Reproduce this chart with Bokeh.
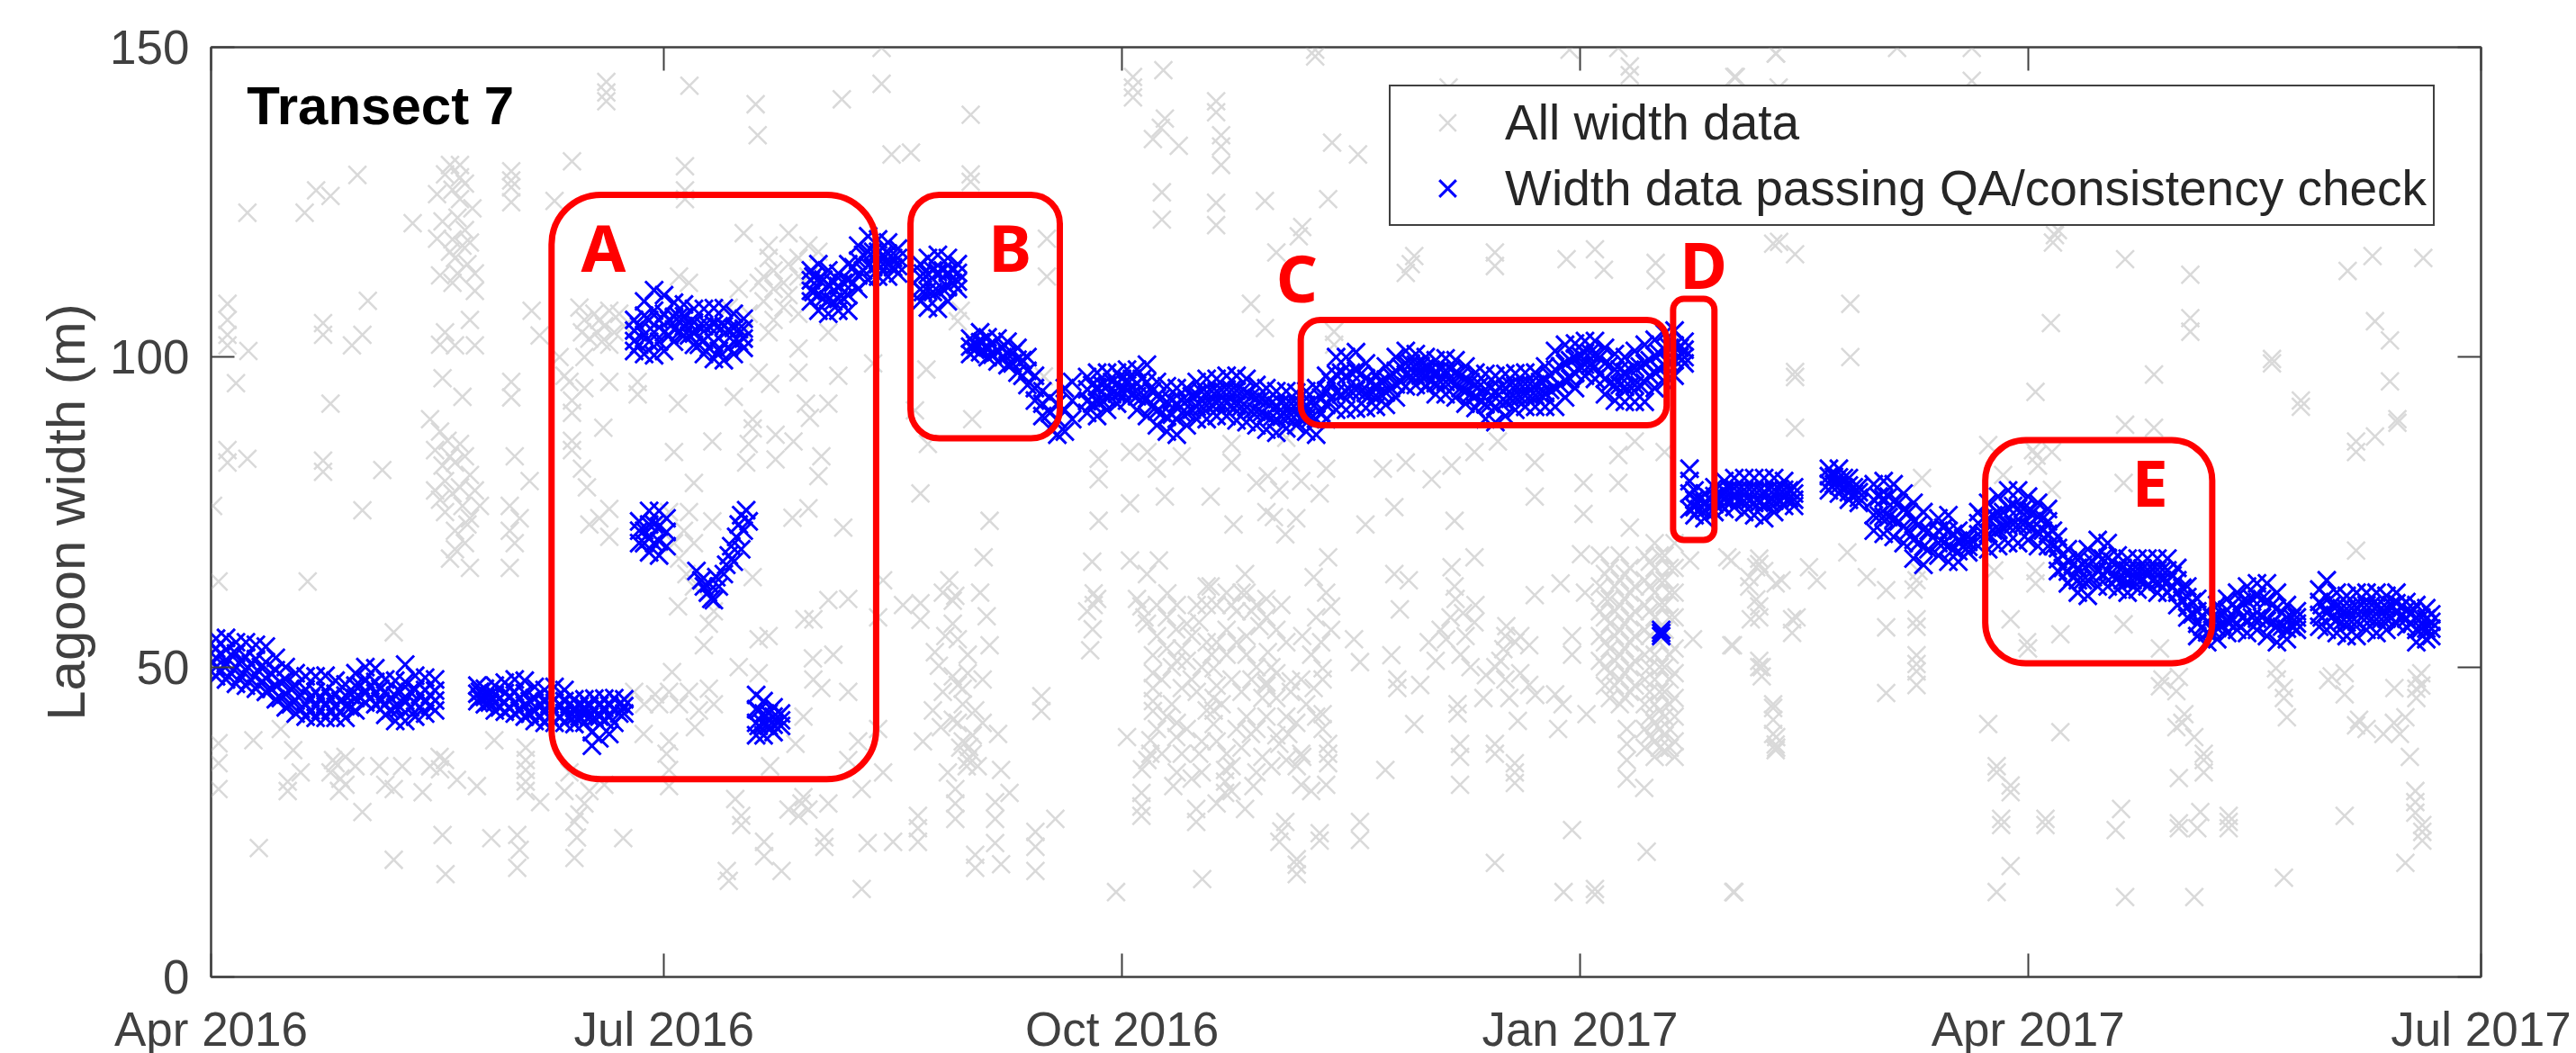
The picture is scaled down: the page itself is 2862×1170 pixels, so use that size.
from bokeh.plotting import figure
from bokeh.models import FixedTicker, LinearAxis, Range1d, Legend, LegendItem
from bokeh.core.properties import value
from bokeh.embed import file_html
from bokeh.resources import INLINE

# Axes
tick_days = [0, 91, 183, 275, 365, 456]
tick_labels = ["Apr 2016", "Jul 2016", "Oct 2016", "Jan 2017", "Apr 2017", "Jul 2017"]
y_ticks = [0, 50, 100, 150]

# Width data passing QA: (days since 1 Apr 2016, [widths on that day])
blue_early = [
 (1,[54.6,53,51.5,50,48.5]),(3,[54.7,52.8,50.6,48]),(5,[54,52.2,50,47.3]),(7,[54,51.6,49.5,47]),
 (9,[53.6,51.3,48.7,46.5]),(11,[53.3,50.8,48.2,46]),(13,[51.5,49.5,47,44.8]),(15,[50,48,45.6,43.5]),
 (17,[49,47,44.6,42.5]),(19,[48.5,46.4,44,42]),(21,[48.5,46,43.7,41.8]),(23,[48.6,46.2,44,41.8]),
 (25,[47.8,45.7,43.6,41.8]),(27,[47.2,45.4,43.7,41.8]),(29,[49,47,45,43]),(31,[50,48,46,44.3]),
 (33,[49.8,47.6,45.8,44]),(35,[48,46,44,42.3]),(37,[47.8,45.4,43.5,41.3]),(39,[50.4,47.6,44.6,41.3]),
 (41,[48.6,46.4,44.2,42]),(43,[48.3,46.3,44.4,42.5]),(45,[48,46.2,44.6,43]),
 (53.5,[47,45.7,44.5]),(55,[46.5,45.2,44]),(57,[47,45.5,44.2,43]),(59,[47.5,45.8,44.3,42.8]),
 (61,[48,46,44.2,42.5]),(63,[47.8,45.8,43.8,42]),(65,[46.8,45,43,41.3]),(67,[46.3,44.4,42.7,41]),
 (69,[46.8,44.8,42.8,41]),(71,[46.3,44.5,42.6,41]),(73,[44.8,43.4,42,40.8]),(75,[44.8,43.5,42.2,41]),
 (76.5,[37.3,39.5]),(77,[44.9,43.2,41.8]),(78,[38.5]),(79,[44.9,43.4,41.5]),(80,[39.2]),(81,[45,43.2,41]),
 (83,[44.8,43.7,42.5]),
 (2,[52,49.5]),(4,[52,49]),(6,[51,48.5]),(8,[50.5,48]),(10,[50,47.5]),(12,[49,46.5]),(14,[47.5,45]),(16,[46.5,44]),
 (18,[45.5,43.2]),(20,[45,43]),(22,[45,43]),(24,[45,43]),(26,[44.5,42.8]),(28,[45.5,43.5]),(30,[47,45]),(32,[47,45]),
 (34,[46.5,44.5]),(36,[45,43]),(38,[46,43.5]),(40,[46,43.5]),(42,[45.5,43.5]),(44,[45.5,43.8]),
 (54,[46,45]),(56,[45.5,44.3]),(58,[45,43.5]),(60,[45.3,43.3]),(62,[45,43]),(64,[44.5,42.5]),(66,[44,42]),(68,[44,42]),
 (70,[44,42]),(72,[44,42]),(74,[43.7,42]),(76,[43.7,42]),(78,[43.8,42]),(80,[43.8,42]),(82,[44,42.5]),
]
blue_clusters = [
 (85,[106,104.3,102.6,101]),(87,[109,106.7,103.6,100.5]),(89,[110.8,107.5,104,100.3]),(91,[110,107,104,101]),
 (93,[108.8,106.5,104.5,102.5]),(95,[108.5,106.6,105,103.5]),(97,[107.8,105.6,103.8,102]),
 (99,[107.8,105,102.7,100.5]),(101,[107.9,105.3,102.4,99.7]),(103,[107.9,105,102.2,99.5]),
 (105,[107,104.7,102.5,100.5]),(107,[106.2,104.6,103,101.5]),
 (86,[105,102]),(88,[106,102.5]),(90,[106,102.5]),(92,[106,103.5]),(94,[106.5,104]),(96,[105.5,103.5]),(98,[105,102]),
 (100,[105,101.5]),(102,[105,101]),(104,[104.5,101.5]),(106,[104.5,102.5]),
 (86,[73.5,72,70]),(88,[75.2,73,70.7,68.5]),(90,[75.2,72.7,70.3,68]),(91.5,[74,71.8,69.5]),(87,[72,70]),(89,[73,70]),
 (97.5,[65.5]),(98.5,[64]),(99,[63]),(99.8,[62]),(100.5,[61]),(101,[60.8]),(100,[63.5]),(101.5,[64.5]),
 (102,[63]),(103,[65]),(103.5,[66.5]),(104,[68]),(104.5,[69.5]),(105.5,[71]),(106,[73]),(107,[72]),
 (106.5,[74.5,69]),(107.5,[75.3]),(108,[73.5]),(105,[67]),
 (109.5,[45.5,43.2,41,39]),(111,[44.5,42.5,40.8,39]),(113,[43.5,42,40.7,39.5]),(114.5,[42.5,41.4,40.5]),(110,[43,40.5]),(112,[42.5,40.5]),
 (120.5,[114,112.4,110.7,109]),(122,[115,112.6,110,107.5]),(124,[114,111.7,109.3,107]),(126,[113.5,111.5,109.4,107.5]),
 (128,[115,112.4,110,107.5]),(130,[118,115.6,113.2,111]),(132,[119.5,117,114.8,112.5]),(134,[119,117,115,113]),
 (136,[118.5,116.7,114.9,113]),(138,[117.5,116,114.7,113.5]),
 (121,[113,110.5]),(123,[112.5,109.5]),(125,[112,109]),(127,[112,109.5]),(129,[114.5,112]),(131,[116.5,114]),(133,[117,114.5]),
 (135,[116.5,115]),(137,[116,114.5]),
 (142.5,[115,113,111,109]),(144,[116,113.4,110.7,108]),(146,[116.5,113.7,110.7,107.8]),(148,[116,113.6,111.3,109]),
 (150,[115,113.6,112.2,111]),(143,[113.5,110.5]),(145,[114,110.5]),(147,[114,111]),(149,[114,112]),
 (152.5,[103,101.7,100.5]),(154.5,[104,102.4,100.8]),(156,[103.2,101.6,100]),(158,[103,101,99.3]),
 (160,[102.5,100.5,98.7]),(162,[101.5,99.6,97.5]),(164,[100,97.8,95.5]),(165.5,[97,95,93]),(167,[94.5,92.5,90.5]),
 (168.5,[93.5,91,88.5]),(170,[92.5,90,87.5]),(171.5,[95,91.5,88]),(173,[96,93,90]),
 (153.5,[102,101.2]),(155,[102.5,101.2]),(157,[102,100.4]),(159,[101.5,100]),(161,[100.6,99]),(163,[99.5,97]),
]
blue_autumn = [
 (176,[96.8,94.8,92.9,91]),(178,[97.5,95.2,92.8,90.5]),(180,[97.5,95.4,93.4,91.5]),(182,[97.5,95.8,94.1,92.5]),
 (184,[98,96.3,94.6,93]),(186,[98,95.8,93.7,91.5]),(188,[98.8,96,93.3,90.5]),(190,[96,93.7,91.3,89]),
 (192,[95.3,92.8,90.4,88]),(194,[95,92.5,90,87.5]),(196,[95,93,91,89]),(198,[96,94,92,90]),
 (200,[96.5,94.3,92.2,90]),(202,[96.5,94.5,92.6,90.5]),(204,[97,94.8,92.6,90.5]),(206,[97,94.6,92.2,89.8]),
 (208,[96.5,94.2,91.9,89.5]),(210,[95.5,93.4,91.2,89]),(212,[95,92.8,90.5,88.3]),(214,[94.5,92.2,90,87.8]),
 (216,[94.5,92.4,90.5,88.5]),(218,[94.3,92.5,90.7,89]),(220,[94.5,92.3,90.2,88]),(222,[95,92.5,90,87.5]),
 (224,[97,94.6,92.3,90]),(226,[100,97.2,94.3,91.5]),(228,[100,97,94.4,91.5]),(230,[100.8,97.8,94.7,91.7]),
 (232,[99,96.6,94.2,91.8]),(234,[97.2,95.5,93.8,92]),(236,[98.5,96.4,94.3,92.3]),(238,[100,97.8,95.6,93.5]),
 (240,[101,99,97.2,95.3]),(242,[100.5,98.8,97.1,95.5]),(244,[100,98.4,96.8,95.2]),(246,[99.5,97.7,95.8,94]),
 (248,[99.8,97.8,96,94]),(250,[99.5,97.5,95.5,93.5]),(252,[98.5,96.5,94.5,92.5]),(254,[97.5,95.6,93.7,91.8]),
 (256,[97.3,94.8,92.4,90]),(258,[97,94.5,92,89.5]),(260,[97.3,95,92.8,90.5]),(262,[97.4,95.4,93.4,91.5]),
 (264,[97.5,95.7,93.8,92]),(266,[97.5,95.6,93.8,92]),(268,[98.5,96.3,94.2,92]),(270,[101,98,95,92]),
 (272,[102,99,96.2,93.5]),(274,[102.2,99.8,97.4,95]),(276,[102.6,100.7,98.8,97]),(278,[102.6,100.5,98.5,96.5]),
 (280,[101.5,99,96.5,94]),(282,[100.5,98,95.5,93]),(284,[100,97.6,95.2,92.8]),(286,[101,98.3,95.5,92.8]),
 (288,[102,99,95.9,92.8]),(290,[102.8,100.2,97.6,95]),(292,[103.8,101.2,98.6,96]),(294,[104.3,101.9,99.5,97]),
 (296,[102.5,101.2,100,99]),(291.3,[55,55.5,56]),
 (177,[95.5,92.5]),(179,[95.5,93]),(181,[96,94]),(183,[96.5,94.5]),(185,[96.5,94]),(187,[96.5,93.5]),(189,[94.5,92]),(191,[93.5,91]),
 (193,[93,90.7]),(195,[93,91]),(197,[93.7,91.5]),(199,[94.4,92]),(201,[94.5,92.3]),(203,[94.7,92.5]),(205,[94.7,92.2]),(207,[94.4,92]),
 (209,[93.7,91.3]),(211,[93.2,91]),(213,[92.6,90.2]),(215,[92.6,90.4]),(217,[92.5,90.7]),(219,[92.5,90.3]),(221,[92.6,90.2]),(223,[93.5,91]),
 (225,[96,93.2]),(227,[97.5,94]),(229,[97.5,94.5]),(231,[97.3,94.5]),(233,[96,94]),(235,[96,94]),(237,[97,95]),(239,[98.4,96]),(241,[99,97]),
 (243,[98.6,97]),(245,[98,96.2]),(247,[98,96]),(249,[98,96]),(251,[97,95]),(253,[96,94]),(255,[95.5,93]),(257,[95,92.5]),(259,[95,92.7]),
 (261,[95.5,93.3]),(263,[95.6,93.6]),(265,[95.7,93.7]),(267,[96,94]),(269,[97,94.7]),(271,[98.5,95.5]),(273,[99.5,96.5]),(275,[100.3,98.5]),
 (277,[100.7,98.7]),(279,[100,97.2]),(281,[98.8,95.8]),(283,[98,95.5]),(285,[98,95.3]),(287,[98.5,95.5]),(289,[99.5,97]),(291,[100.5,98]),
 (293,[101.5,99]),(295,[101.5,100]),
]
blue_spring = [
 (297,[82,80,78,75.5]),(298,[78.5,77,75.8,74.5]),(300,[78,76.6,75.3,74]),(302,[79,77.6,76.3,75]),(304,[80,78.4,77,75.5]),
 (306,[80.5,78.8,77.3,75.8]),(308,[80.5,78.6,76.8,75]),(310,[80.5,78.6,76.5,74.5]),(312,[80.5,78.3,76.2,74]),
 (314,[80.5,78.6,76.8,75]),(316,[80,78.6,77.3,76]),(318,[79,78,77,76]),
 (325,[82,80.8,79.6,78.5]),(327,[82,80.6,79.3,78]),(329,[80.5,79.3,78.2,77]),(331,[79,78.2,77.3,76.5]),
 (334,[79.5,77,74.5,72]),(336,[80,77.2,74.3,71.5]),(338,[79.5,76.7,73.8,71]),(340,[78,75.4,72.7,70]),
 (342,[76.5,73.5,70.5,67.5]),(344,[75,72.2,69.4,66.5]),(347,[74,72,70,68]),(349,[74.5,72,69.5,67]),
 (351,[72,70.4,68.7,67]),(353,[71,70.2,69.4,68.5]),
 (355,[75,73.2,71.4,69.5]),(357,[76.5,74,71.5,69]),(359,[77.5,74.8,72.2,69.5]),(361,[78.5,75.7,72.8,70]),
 (363,[78.5,75.6,72.9,70]),(365,[77.5,75.2,72.8,70.5]),(367,[76.5,74.2,71.8,69.5]),(369,[75.5,73.5,71.5,69.5]),
 (371,[71,69.2,67.4,65.5]),(373,[69,67.2,65.4,63.5]),(375,[68,66,64,62]),(377,[69,66.5,64,61.5]),
 (379,[70.5,68,65.5,63]),(381,[70,67.6,65.4,63]),(383,[68,66.2,64.3,62.5]),(385,[67.5,65.6,63.8,62]),
 (387,[67.5,65.8,64.2,62.5]),(389,[67.5,65.7,64.8,63]),(391,[67.5,65.7,63.8,62]),(393,[67.5,65.6,63.8,62]),
 (395,[66,64,62,60]),(397,[63,61.3,59.6,58]),(399,[61,59,57,55]),(401,[59,57.3,55.6,54]),
 (403,[60,58.2,56.3,54.5]),(405,[61,59.2,57.3,55.5]),(407,[62,59.4,57,56]),(409,[63,60.7,57.5,55.5]),
 (411,[63.5,61.4,57.8,56]),(413,[63.5,60.8,57.5,55]),(415,[62,59.5,56.7,54]),(417,[60,58,56.2,54.5]),
 (419,[59,58,57,56]),(423.5,[62.5,60.5,58.4,56.5]),(425,[64,61.4,58.7,56]),(427,[62,59.8,57.6,55.5]),
 (429,[61.5,59.4,57.2,55]),(431,[62,59.6,57.3,55]),(433,[62,60,58,56]),(435,[62,59.8,57.7,55.5]),
 (437,[61.5,59.6,57.8,56]),(439,[62,60.3,58.7,57]),(441,[60.5,59.2,57.8,56.5]),(443,[60,58,56,54]),
 (445,[59.5,57.8,56.2,54.5]),(446,[58.5,57.3,56.2,55]),
 (299,[77,75.5]),(301,[77.3,76]),(303,[78,76.5]),(305,[78.7,77]),(307,[78.7,77]),(309,[78.7,76.8]),(311,[78.5,76.5]),(313,[78.6,76.6]),
 (315,[78.7,77]),(317,[78.5,77.2]),(326,[80.7,79.5]),(328,[80.5,79]),(330,[79,78]),(335,[77.5,74.5]),(337,[77.5,74.2]),(339,[76.5,73.5]),
 (341,[75,72]),(343,[73,70]),(345,[72,69]),(348,[72.5,70]),(350,[71.5,69]),(352,[70.8,69.5]),(356,[74,71.5]),(358,[74.5,72]),(360,[75,72.5]),
 (362,[76,73]),(364,[75.5,73]),(366,[75,72.5]),(368,[74,72]),(370,[72,69.5]),(372,[68,66]),(374,[66.5,64.5]),(376,[66.5,64]),(378,[67,64.5]),
 (380,[67.5,65]),(382,[67,64.7]),(384,[66,64]),(386,[65.7,64]),(388,[65.9,64.3]),(390,[65.8,64]),(392,[65.7,64]),(394,[64.8,63]),(396,[62.8,60.8]),
 (398,[60.5,58.5]),(400,[58.3,56.5]),(402,[58,56]),(404,[58.5,56.8]),(406,[60,57.5]),(408,[60.5,58]),(410,[61,58]),(412,[61,58]),(414,[60,57]),
 (416,[58.8,56.5]),(418,[58,56.5]),(424,[60,58]),(426,[60,58]),(428,[59.5,57.3]),(430,[59.5,57.3]),(432,[60,58]),(434,[60,57.8]),(436,[59.5,57.7]),
 (438,[60,58]),(440,[59.8,58.2]),(442,[58.8,57]),(444,[58,56.2]),
]

# All width data: (days since 1 Apr 2016, width)
grey_spring = [
 (3.3,108.6),(3.3,106),(3.3,103.6),(3.3,101.9),(3.3,83),(3.3,85),(7.3,123.3),(18.8,123.3),(21.1,126.9),(24,126),(29.4,129.4),
 (5,95.8),(7.5,101),(7.3,83.6),(0.4,76),(22.5,105.5),(22.5,103.6),(30.4,103.6),(28.3,101.9),(31.5,109.1),(24,92.5),(22.5,83.3),
 (22.5,81.5),(34.4,81.8),(30.4,75.3),(40.5,121.6),(45.4,126.3),(46.5,121.9),(45.4,119.1),(48,131),(50,131),(51,128),(50,125.5),
 (49.5,122.5),(51,120.5),(52,118.5),(48.5,119),(47,129.5),(46,113.2),(48.5,112),(53,113.5),(53,110.7),(47,104),(52,106),(49,101.9),
 (46,102),(53,101.9),(46.5,96.6),(50.5,93.6),(60.3,130),(60.3,128.5),(60.3,127.4),(60.3,125),(60.3,96),(60.3,93.5),(64.4,107.5),
 (66,103.5),(44,90),(46,88),(45,85),(48,84),(50,86),(47,80),(50,79),(52,81),(45,78.5),(47,75),(52,74),(49,72),(54,76),(51.5,73),
 (60,76),(60,72),(62,74),(61,70),(64,80),(61,84),(48,67.5),(52,66),(60,66),
 (47.5,86.5),(49,83),(46.5,82.5),(51,84),(48.5,78),(50.5,76),(46,77),(53,78.5),(51,70),(49,69),(50.5,118),(49,116),(51.5,115),(49.5,113.5),(48,117),(52.5,124),(50,129),(48.5,127),
 (1.5,63.8),(19.4,63.8),(36.7,55.6),(1.5,37.7),(1.5,34.5),(1.5,30.3),(8.5,38.2),(16.5,36.6),(15.4,31.5),(15.4,30),(14,40),(18,33),
 (24,33),(25,34.5),(26,32),(27,31),(25.7,30),(24.5,35),(27,35.5),(29,34),(33.8,34),(38.4,34),(36.7,30.3),(35,31),(42.5,29.8),
 (45.9,35.5),(44,34),(46,33.5),(47,35),(49.4,31.8),(53.4,30.8),(30.4,26.6),(9.6,20.8),(36.7,18.9),(47.1,16.6),(46.5,22.9),(56.3,22.4),
 (61.5,22.9),(62,20.5),(61.5,17.6),(63.2,37),(63.2,35),(63.2,33.4),(63.2,31.5),(63.2,30),(56.9,38.2),(66.1,28.2),(74,26.2),(75,28),
 (73,25),(73.5,22.5),(73,19.2),(82.8,22.4),(76,30),(72,33),(71,30),(79,31),
]
grey_summer = [
 (79.4,144.4),(79.4,142.7),(79.4,141.3),(96.1,143.8),(109.4,140.8),(109.8,135.8),(126.7,141.6),(134.7,144.1),(134.7,149.9),(136.7,132.7),
 (72.5,131.6),(95.2,130.8),(95.2,126.9),(95.2,125.5),(69,125.2),(107,120),(112,118),(116,120),(120,118),(122,117),(113,114),(115,112),
 (111,109),(116,110),(118,107),(118,113),(113,106),(106,111),(107,104),(96,112),(78,106),(75,106),(79,105),(81,104),(76,103),(78.5,102.5),
 (82,107),(75,100),(70,100),(75,95),(72,96),(85.7,96),(85.7,94),(78.8,88.6),(72.5,93),(72.5,91),(72.5,85),(72.5,86.5),(80,96),(71,97),
 (74.5,82),(75.5,79),(80,75.5),(78,74),(76,73),(80,71),(93.8,92.5),(100.7,86.4),(93,84.7),(108.8,90),(108.8,88.5),(108,86),(113.4,87.5),
 (117,86.4),(107.5,83),(113.4,83.5),(122.6,84),(122,80.8),(105,93.6),(120.3,90.2),(124,92.5),(119.5,92.5),(112.3,95.7),(118,97.5),(126,97),
 (118,101.4),(124,104),(110,97.5),(104,108),(94,113),(133,99),(127,72.5),(97,79.7),(120,75.6),(100.7,73.5),(116.8,74.1),
 (77,107),(80,107.5),(74.5,104),(77.5,104),(80,102),(83,105),(74,108),(111,113),(113,111),(116,115),(118,116),(112,116),(115,108),(110,112),(120,113),(108,107),(112,104),
 (93,70),(95,72),(94,67.5),(96,75),(97,70),(92,75),(95.5,65),(97,63),
 (101,59),(99,53.5),(100,57),(93.8,59.8),(92.6,49.2),(89.2,45.6),(85,46),(87,44),(90,44),(92,46),(94,44),(96,46),(98,43),(100,46.5),(101,44),
 (92,38),(92,33.4),(91.5,36),(92,30.8),(86.9,39.2),(97.2,40.3),(106.5,26),(106.5,24.5),(111.1,21.8),(111.1,19.5),(103.6,17.1),(104,15.5),
 (114.6,17.1),(123.2,22.5),(123.2,21),(130.7,14.2),(131.9,21.6),(137,21.8),(118.6,28),(118,26),(120,27),(119,29),(124,28),(116,27),(130.7,30.3),
 (105.3,28.7),(112.3,34),(117.4,37.6),(119,42),(122.6,46.6),(120.9,51.4),(121,48),(121,57.7),(119.2,57.7),(124,60.8),(108.8,64.5),(110,54.5),
 (106,50),(110,49),(112,55),(125,52),(128,46),(134,58),(130,38),(134,40),(128,35),(135,33),(128,61),(135,64),(139,60),
 (142.5,60.3),(142.5,57.6),(149.5,61.5),(149,60.7),(150,54.5),(155.2,67.7),(148.3,64),(155.8,58.2),(156.4,53.5),(145.4,52.4),(146.2,50.2),
 (150,47.1),(149,48.5),(151,46.5),(152,49),(153.5,43),(152.3,37.1),(151,38),(153,36),(152,35),(158.1,39.2),(149.5,30.3),(149.5,28),(149.5,25.5),
 (157.5,28.2),(157.5,25.5),(160.4,29.7),(157.5,21.6),(153.5,19.7),(158.7,18.2),(153.5,17.6),(165.6,17.1),(165.6,23.4),(165.6,21),(169.6,25.5),
 (142,26),(142,24),(142,21.8),(166.8,45.3),(166.8,42.9),(158.7,33.4),(151.8,34),(146.6,40.3),(147,46),(145,43),(150,41),(155,41),(143,38),(148,33),
 (151,44),(149,41.5),(153,39),(154,34),(150.5,37),(155,48),(147.5,55),(152,52),(149,57),(154.5,62),(147,62),
 (142.5,78),(144,86),(156.4,73.6),(152.6,139.1),(140.6,133),(152.6,128.3),(152.6,129.5),(167.9,119.1),(167.9,113),(167.3,96.9),(150.6,107.5),(150,105.8),
 (143.7,98),(152.9,90),(141.4,91.4),
]
grey_autumn = [
 (185.2,145.2),(185.2,143.5),(185.2,141.9),(191.3,146.3),(191.6,138.5),(190.8,137),(189.2,135.2),(194.4,134.1),(201.9,141.3),(201.9,139.5),(202.9,135.8),(202.9,134),
 (202.9,131),(191,126.6),(191,122.2),(201.9,124.9),(201.9,121.3),(211.7,125.2),(224.4,125.5),(225.2,134.6),(230.4,132.7),(221.8,148.5),(221.8,149.6),(219.2,121),(218.5,119.5),
 (214,116.9),(241.7,116.3),(240,113.6),(241,115),(257.9,116.9),(257.9,114.7),(272.3,115.8),(278,117.4),(279.8,114.1),(290.2,115.2),(290.2,112.4),(272.9,149.6),(282.7,149.9),
 (285,146.9),(285,145.5),(306.3,145.2),(314.4,149),(315,118.6),(208.9,108.6),(211.7,104.7),(225.6,104.1),(225.6,102),(248.6,143.5),
 (178.3,83.6),(178.3,80.3),(184.6,84.7),(188.1,84.7),(184.6,76.4),(191.6,77.5),(178.3,73.6),(200.8,77.5),(205.4,73),(212.3,80.8),(213.5,74.2),(216.9,83),(222.7,78),(231.9,73),
 (235.4,82),(240,83),(245.2,80.3),(237.7,75.8),(249.2,82.5),(253.8,84.7),(258.5,86.4),(249.8,73.6),(265.9,83),(265.9,77.5),(275.7,79.7),(282.7,84.2),(286,86.4),(275.7,74.7),(282.7,79.7),
 (292,84.7),(285,72.5),(214.6,78.6),(210,79.7),(212,75),(215.8,71.4),(205,83),(195,84),(190,82),(205,86),(216,87),(218,74),(219,80),(224,82),
 (177,67),(177.3,61.9),(177.3,60),(176,59),(178,61),(177.1,56.1),(176.6,52.7),(181.8,13.7),
 (186.9,59.8),(186,61),(187.5,58),(192.1,61.9),(184,38.7),(188.7,38.2),(188.7,36),(188.1,35),(187,33.5),(186.9,29.7),(186.9,27.5),(186.9,26),
 (189.2,51.9),(189.2,49),(189.2,46.6),(189.2,44.5),(189.2,42.9),(193.9,56.1),(195,53),(195,46.6),(193,44),(190.4,67.2),(184.6,67.2),(188,65),
 (200.8,63),(198.5,57.2),(197,55),(200,54),(196,51),(201.4,49.8),(201,52),(202,47),(201.4,45),(201.4,43),(201.4,40.8),(198.5,36),(193.9,38.7),(193.3,30.8),(194,33),
 (197.9,27.1),(197.9,25),(199.1,15.8),(203.7,33.4),(203.7,31.5),(203.7,29.7),(207,62),(209,59),(205,60),(208,55),(204,56),(200,60),
 (207.7,65),(210.6,56.6),(212.3,52.4),(213,50),(211.2,45),(212,47.5),(208.9,39.2),(216.4,39.2),(211.2,35.5),(209.4,30.8),(210,33),(207.7,27.1),(216.9,47.7),(216.9,46),(214.6,37.6),
 (218.1,34),(219,36),(215.8,25),(215,23.5),(214.6,21.8),(218.1,19),(218.1,18.1),(218.1,16.6),
 (224.4,67.7),(221.5,64.5),(225,59.8),(224,62),(223.3,49.8),(223.3,48),(221.5,46.6),(223.3,42.4),(223.3,40),(224.4,37.6),(224.4,36),(224.4,34.5),(219.2,35.5),(222.7,23.2),(222.7,22),
 (230.8,25),(230.8,22.1),(229.6,54.5),(230.8,50.8),(219.2,55),(215,60),(212,61),
 (188,57),(190,60),(192,58),(194,60),(196,57),(198,60),(200,63),(202,60),(204,62),(206,59),(208,62),(210,60),(212,58),(214,56),(216,54),
 (190,55),(192,53),(194,51),(197,48),(199,50),(202,54),(204,52),(206,54),(208,52),(210,50),(212,47),(214,45),(191,48),(193,50),(198,46),(200,43),(203,44),(205,48),(207,46),(209,48),(214,49),(216,42),
 (190,40),(192,42),(194,41),(196,40),(199,38),(202,38),(204,36),(206,40),(208,42),(210,40),(212,42),(214,39),(218,41),(220,44),(222,42),(219,48),(221,52),(223,54),(225,56),(222,58),
 (191,36),(195,36),(199,33),(205,34),(207,37),(213,34),(216,35),(219,31),(221,30),(224,31),(197,32),(202,28),(205,30),
 (237.7,65),(240.6,64),(237.1,51.9),(238.8,59.3),(238.3,46.6),(238.3,48),(242.9,47.1),(241.7,40.8),(235.9,33.4),
 (249.2,66.1),(249.8,63),(251.5,58.7),(250,61),(253.8,67.7),(244.6,54),(248.1,54.5),(253.8,57.2),(250.4,44),(250.4,42.5),(255.6,45),(250.9,37.6),(250.9,35.5),(250.9,31),
 (247,56),(249,58),(252,55),(254,60),(251,52),(246,51),(253,50),(260,55),(262,54),(258,50),(263,49),(260,48),
 (260.2,56.6),(259.6,52.9),(259,51),(264.8,53.5),(263,55),(256.1,48.7),(264.8,47.1),(266,45.5),(260.8,45),(262.5,41.3),(257.9,37.6),(257.9,36),(261.9,34.5),(261.9,33),(261.9,31.3),
 (257.9,18.4),(265.9,61.6),(270,45.6),(271.5,44),(270.6,40),(271.1,63.5),(273.4,55),(273.4,52),(275.2,68.2),(276,62),(276.3,42.4),(273.4,23.7),(271.7,13.7),(278,14.2),(278,13.3),
]
grey_winter = [
 (279,68),(279,63),(279,59),(279,55),(279,51),(280,47),(281,66),(281,61),(281,57),(281,53),(281,49),(281,45),(283,68),(283,64),(283,60),(283,56),(283,52),(283,48),(283,44),
 (285,66),(285,62),(285,58),(285,54),(285,50),(285,46),(284.4,40),(284.4,37.6),(284.4,35),(284.4,32),(287.9,30.5),(288.4,20.2),
 (288,68),(288,64),(288,60),(288,56),(288,52),(288,48),(288,44),(288,40),(288,37),(290,70),(290,66),(290,62),(290,58),(290,52),(290,48),(290,44),(290,41),(290,38),(290,35.5),
 (292,68),(292,64),(292,60),(292,56),(292,50),(292,46),(292,42),(292,39),(292,36.5),(294,70),(294,66),(294,62),(294,58),(294,53),(294,49),(294,45),(294,42),(294,38),(294,35.5),
 (280,65),(280,61),(280,58),(280,54),(280,50),(282,63),(282,59),(282,55),(282,51),(282,47),(284,65),(284,61),(284,57),(284,53),(284,49),(284,45),(286,63),(286,59),(286,55),(286,51),(286,47),
 (289,67),(289,63),(289,59),(289,55),(289,50),(289,46),(289,42),(289,39),(291,68),(291,64),(291,60),(291,54),(291,50),(291,46),(291,43),(291,40),(291,37),(293,66),(293,62),(293,58),(293,52),(293,48),(293,44),(293,40),(293,37),
 (297.7,54.5),(297.1,67.2),(305.7,53.5),(304.6,67.7),(310.4,66.1),(309,64.5),(311,67.5),(310.4,60.9),(311.5,50),(311.5,48.5),(313.8,43.4),(313.8,41.5),(314.4,38.7),(314.4,37),
 (315.5,64),(318.5,58),(306,13.7),
 (314.3,149),(338.7,149.9),(353.7,149.9),(306,145.2),(314.9,143.5),(353.7,144.6),(370.4,119.7),(370,118.5),(371,120.5),(313.8,118.3),(318.2,116.6),(384.5,115.8),(397.6,113.3),
 (429.2,113.9),(434.2,116.3),(444.4,116),(329.3,108.6),(369.6,105.5),(397.6,106.3),(397.6,104.1),(434.7,105.8),(437.7,102.7),(329.3,100),(318.2,97.6),(318.2,96.8),(414,99.7),(414,99),
 (390.3,97.2),(366.5,94.4),(437.7,96.1),(419.8,93),(419.8,92),(318.2,88.6),(384.5,89.1),(390.3,88.6),(439.2,90),(439.2,89.4),(434.7,87.2),(430.9,86.4),(430.9,84.7),
 (366.7,84.1),(366,85),(367,82.5),(357,85.8),(369.8,84.7),(343.7,80.5),(384.2,79.7),(369.8,78.6),(360,81),(362,76),(365,74),(368,72),
 (305.4,67.2),(311,66.6),(312,65.5),(309,63),(321,66.1),(322.6,64),(328.7,68.5),(332.6,64.5),(336.5,62.4),(342.6,64),(342,62.5),(343,65.5),(314.3,63.5),
 (305.4,53.5),(309.3,57.7),(311,59.8),(311,58),(317.6,57.7),(317.6,55.5),(336.5,56.4),(342.6,57.7),(342.6,56.5),(342.6,51.9),(342.6,50.5),(342.6,49.3),(342.6,47.1),(336.5,45.8),
 (311,50),(311,51),(313.8,44),(313.8,39.2),(314.3,37.5),(314.3,36.6),(357,40.8),(371.5,39.5),(358.7,34),(358.7,33),(361.5,30.9),(361.5,29.8),(359.6,25.5),(359.6,24.5),(368.5,25.5),
 (368.5,24.5),(361.5,17.9),(358.7,13.7),(305.8,13.7),(383.7,27.1),(382.6,23.7),(384.5,12.9),(398.4,12.9),(395.3,24.8),(395.3,24),(399.6,26.6),(399,24),(405.3,26),(405.3,25),(405.3,24),
 (416.4,16),(428.6,26),(440.8,18.4),(442.8,28.2),(442.8,26.5),(444.2,24.5),(444.2,23.4),(444.2,22),(442.8,30),(441.7,35.5),(440.8,41.9),(436.4,39.2),(439.7,39.2),(438.5,41),(430.9,40.6),
 (431.5,41.5),(433,40),(417,41.9),(400.3,36),(400.3,35),(400.3,33),(395.3,32.1),(398.4,38.7),(394.8,40.3),(396.4,42.4),(396,41),(391.5,46.9),(392,48),(394.8,46.1),(395.3,48.4),
 (414.8,49.8),(415,48),(416.4,46.6),(416.4,45),(425.3,47.9),(426,48.5),(428.6,49),(428.6,45.6),(438.6,46.6),(443.1,48.2),(443,46.5),(444,47),(443,45),(444,49),
 (364.8,54),(365,53),(361.5,57.7),(371.5,55.3),(384.2,56.9),(391.5,53),(366.5,63.5),(366.5,65.5),(358.2,65.6),(430.9,68.8),
]

# Legend and panel annotations
legend_labels = ["All width data", "Width data passing QA/consistency check"]
region_names = ["A", "B", "C", "D", "E"]
region_left = [68.4, 140.5, 218.9, 293.7, 356.4]
region_right = [133.6, 170.5, 292.4, 302.0, 402.0]
region_top = [126.2, 126.2, 106.0, 109.4, 86.6]
region_bottom = [31.9, 86.9, 89.0, 70.5, 50.6]
region_radius = [55, 32, 22, 12, 45]
name_x = [78.8, 160.5, 218.1, 299.8, 389.5]
name_y = [117.8, 117.8, 112.9, 115.1, 80]
panel_title = "Transect 7"

blue_all = blue_early + blue_clusters + blue_autumn + blue_spring
blue_x = [d for d, vs in blue_all for _ in vs]
blue_y = [v for _, vs in blue_all for v in vs]
grey_all = grey_spring + grey_summer + grey_autumn + grey_winter
grey_x = [d for d, _ in grey_all]
grey_y = [v for _, v in grey_all]

FONT = "Liberation Sans"
AX = "#404040"

p = figure(frame_width=2522, frame_height=1033, x_range=Range1d(0, 456), y_range=Range1d(0, 150),
           output_backend="svg", toolbar_location=None, tools="",
           min_border_left=234, min_border_right=106, min_border_top=52, min_border_bottom=85,
           background_fill_color="white", border_fill_color="white")
p.grid.visible = False
p.outline_line_color = AX
p.outline_line_width = 2

xa, ya = p.xaxis[0], p.yaxis[0]
xa.ticker = FixedTicker(ticks=tick_days)
xa.major_label_overrides = dict(zip(tick_days, tick_labels))
ya.ticker = FixedTicker(ticks=y_ticks)
ya.axis_label = "Lagoon width (m)"
ya.axis_label_text_font = FONT
ya.axis_label_text_font_size = "60px"
ya.axis_label_text_font_style = "normal"
ya.axis_label_text_color = AX
ya.axis_label_standoff = 12
for ax in (xa, ya):
    ax.major_tick_in = 26
    ax.major_tick_out = 0
    ax.minor_tick_in = 0
    ax.minor_tick_out = 0
    ax.axis_line_color = AX
    ax.axis_line_width = 2
    ax.major_tick_line_color = AX
    ax.major_tick_line_width = 2
    ax.major_label_text_font = FONT
    ax.major_label_text_font_size = "53px"
    ax.major_label_text_color = AX
    ax.major_label_standoff = 24
xa.major_label_standoff = 28

for side, ticks in (("above", tick_days), ("right", y_ticks)):
    extra = LinearAxis(ticker=FixedTicker(ticks=ticks), major_tick_in=26, major_tick_out=0,
                       minor_tick_in=0, minor_tick_out=0, axis_line_color=AX, axis_line_width=2,
                       major_tick_line_color=AX, major_tick_line_width=2,
                       major_label_overrides={t: "" for t in ticks}, major_label_text_font_size="1px",
                       major_label_standoff=0)
    p.add_layout(extra, side)

grey_r = p.scatter(grey_x, grey_y, marker="x", size=28, line_color="#d9d9d9", line_width=2.5)
blue_r = p.scatter(blue_x, blue_y, marker="x", size=28, line_color="#0000ff", line_width=3)

for l, r, t, b, rad in zip(region_left, region_right, region_top, region_bottom, region_radius):
    p.quad(left=[l], right=[r], top=[t], bottom=[b], fill_color=None, line_color="#ff0000",
           line_width=7, border_radius=rad)
p.text(name_x, name_y, text=region_names, text_color="#ff0000", text_font=value("Noto Sans"),
       text_font_size="72px", text_font_style="bold", text_align="center", text_baseline="middle")
p.text([7.2], [140.5], text=[panel_title], text_color="black", text_font=value(FONT),
       text_font_size="60px", text_font_style="bold", text_align="left", text_baseline="middle")

legend = Legend(items=[LegendItem(label=legend_labels[0], renderers=[grey_r]),
                       LegendItem(label=legend_labels[1], renderers=[blue_r])],
                location=(1309, 834), orientation="vertical", margin=0, padding=7, spacing=7,
                glyph_width=112, glyph_height=66, label_height=60, label_standoff=8,
                label_text_font=FONT, label_text_font_size="55px", label_text_color="#262626",
                border_line_color=AX, border_line_alpha=1, border_line_width=2,
                background_fill_color="white", background_fill_alpha=1)
p.add_layout(legend, "center")

open("out.html", "w").write(file_html(p, INLINE))
